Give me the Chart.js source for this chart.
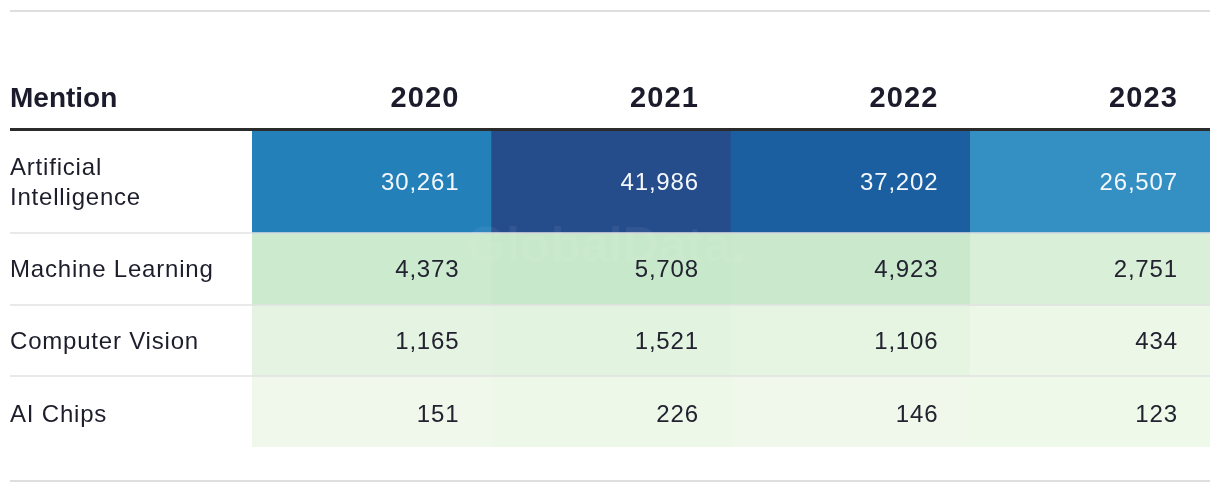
<!DOCTYPE html>
<html><head><meta charset="utf-8">
<style>html,body{margin:0;padding:0;background:#fff;overflow:hidden}#wrap{width:1220px;height:492px;position:relative}</style>
<script src="https://cdn.jsdelivr.net/npm/chart.js@4.4.1/dist/chart.umd.min.js"></script>
</head><body><div id="wrap"><canvas id="c" width="1220" height="492"></canvas></div>
<script>
// ---- data ----
const headerLabel = 'Mention';
const years = ['2020', '2021', '2022', '2023'];
const mentionLabels = [['Artificial', 'Intelligence'], ['Machine Learning'], ['Computer Vision'], ['AI Chips']];
const aiValues = [30261, 41986, 37202, 26507];
const mlValues = [4373, 5708, 4923, 2751];
const cvValues = [1165, 1521, 1106, 434];
const chipValues = [151, 226, 146, 123];
const rowValues = [aiValues, mlValues, cvValues, chipValues];
const watermark = 'GlobalData.';

// ---- style ----
const rowHeights = [102, 72, 71, 71];
const FONT = '"Liberation Sans", Arial, sans-serif';
const colorStops = [
  [0, [240, 249, 235]],
  [1500, [226, 243, 223]],
  [4400, [204, 234, 205]],
  [6000, [198, 231, 201]],
  [26507, [52, 144, 194]],
  [30261, [35, 128, 185]],
  [37202, [27, 95, 160]],
  [42000, [37, 76, 139]]
];
function colorFor(v) {
  for (let i = 1; i < colorStops.length; i++) {
    const [v1, c1] = colorStops[i];
    const [v0, c0] = colorStops[i - 1];
    if (v <= v1 || i === colorStops.length - 1) {
      const t = Math.max(0, Math.min(1, (v - v0) / (v1 - v0)));
      const c = c0.map((a, k) => Math.round(a + (c1[k] - a) * t));
      return `rgb(${c[0]},${c[1]},${c[2]})`;
    }
  }
}
const rowEdges = [0];
rowHeights.forEach(h => rowEdges.push(rowEdges[rowEdges.length - 1] + h));
const totalH = rowEdges[rowEdges.length - 1];

const datasets = rowValues.map((vals, r) => ({
  label: mentionLabels[r].join(' '),
  data: vals.map(() => [rowEdges[r], rowEdges[r + 1]]),
  values: vals,
  backgroundColor: vals.map(colorFor),
  borderWidth: 0,
  barPercentage: 1,
  categoryPercentage: 1,
  grouped: false
}));

const fmt = new Intl.NumberFormat('en-US');
const BODY_SIZE = 24, BODY_LS = 0.8, HEAD_SIZE = 29, HEAD_LS = 1.2;
const CAP = 0.70;

const tablePlugin = {
  id: 'table',
  beforeDraw(chart) {
    const ctx = chart.ctx;
    ctx.save(); ctx.fillStyle = '#fff'; ctx.fillRect(0, 0, chart.width, chart.height); ctx.restore();
  },
  afterDatasetsDraw(chart) {
    const ctx = chart.ctx, xs = chart.scales.x, ys = chart.scales.y, area = chart.chartArea;
    const left = 10, right = area.right, W = right - left;
    const colHalf = xs.width / years.length / 2;
    ctx.save();
    // rules
    ctx.fillStyle = '#dedede';
    ctx.fillRect(left, 10, W, 2);
    ctx.fillRect(left, 480, W, 2);
    ctx.fillStyle = '#2b2b2b';
    ctx.fillRect(left, area.top - 3, W, 3);
    // row separators
    for (let r = 1; r < rowEdges.length - 1; r++) {
      const y = ys.getPixelForValue(rowEdges[r]);
      ctx.fillStyle = 'rgba(226,226,226,0.75)';
      ctx.fillRect(left, Math.round(y) - 1, W, 2);
    }
    // faint watermark
    ctx.save();
    ctx.font = 'bold 50px ' + FONT;
    ctx.fillStyle = 'rgba(255,255,255,0.06)';
    ctx.textAlign = 'center';
    ctx.textBaseline = 'alphabetic';
    ctx.fillText(watermark, (area.left + area.right) / 2 - 125, 262);
    ctx.restore();
    // header
    ctx.fillStyle = '#1b1b2b';
    ctx.textBaseline = 'alphabetic';
    ctx.font = 'bold 28px ' + FONT;
    ctx.letterSpacing = '0px';
    ctx.textAlign = 'left';
    ctx.fillText(headerLabel, left, 107);
    ctx.font = 'bold ' + HEAD_SIZE + 'px ' + FONT;
    ctx.letterSpacing = HEAD_LS + 'px';
    ctx.textAlign = 'right';
    years.forEach((yr, i) => {
      const cx = xs.getPixelForValue(i);
      ctx.fillText(yr, cx + colHalf - 33 + HEAD_LS, 107);
    });
    // body
    ctx.font = BODY_SIZE + 'px ' + FONT;
    ctx.letterSpacing = BODY_LS + 'px';
    chart.data.datasets.forEach((ds, r) => {
      const meta = chart.getDatasetMeta(r);
      const y0 = ys.getPixelForValue(rowEdges[r]), y1 = ys.getPixelForValue(rowEdges[r + 1]);
      const cy = (y0 + y1) / 2;
      const base = cy + BODY_SIZE * CAP / 2 + (r === rowEdges.length - 2 ? 2 : 0);
      // row label
      const lines = mentionLabels[r];
      ctx.textAlign = 'left';
      ctx.fillStyle = '#1d1d2b';
      lines.forEach((ln, k) => ctx.fillText(ln, left, base + (k - (lines.length - 1) / 2) * 30));
      // values
      ctx.textAlign = 'right';
      meta.data.forEach((el, i) => {
        const v = ds.values[i];
        ctx.fillStyle = v > 15000 ? '#f4f7fb' : '#222230';
        const rx = el.x + el.width / 2 - 33 + BODY_LS;
        ctx.fillText(fmt.format(v), rx, base);
      });
    });
    ctx.restore();
  }
};

new Chart(document.getElementById('c'), {
  type: 'bar',
  data: { labels: years, datasets },
  options: {
    responsive: false,
    animation: false,
    layout: { padding: { left: 252, right: 10, top: 131, bottom: 492 - 131 - totalH } },
    plugins: { legend: { display: false }, tooltip: { enabled: false } },
    scales: {
      x: { type: 'category', display: false, offset: true, grid: { display: false } },
      y: { type: 'linear', display: false, min: 0, max: totalH, reverse: true, grid: { display: false } }
    }
  },
  plugins: [tablePlugin]
});
</script></body></html>
